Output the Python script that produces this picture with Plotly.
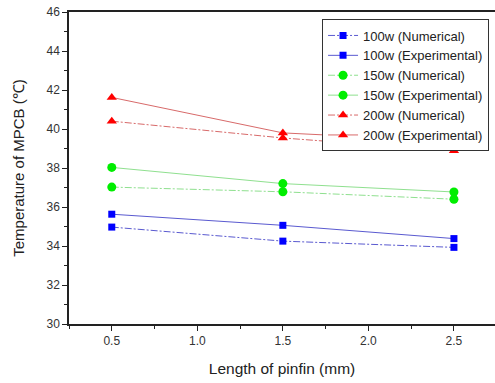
import plotly.graph_objects as go

x_len = [0.5, 1.5, 2.5]
num_100 = [34.97, 34.25, 33.93]
exp_100 = [35.63, 35.06, 34.38]
num_150 = [37.02, 36.78, 36.40]
exp_150 = [38.03, 37.20, 36.77]
num_200 = [40.40, 39.54, 38.88]
exp_200 = [41.62, 39.80, 39.37]

series = [
    ("100w (Numerical)", num_100, "#5a5ad0", "#0000ff", "square", "7px,2px,2px,2px"),
    ("100w (Experimental)", exp_100, "#5a5ad0", "#0000ff", "square", "solid"),
    ("150w (Numerical)", num_150, "#8fe08f", "#00ee00", "circle", "7px,2px,2px,2px"),
    ("150w (Experimental)", exp_150, "#8fe08f", "#00ee00", "circle", "solid"),
    ("200w (Numerical)", num_200, "#d86a6a", "#ff0000", "triangle-up", "7px,2px,2px,2px"),
    ("200w (Experimental)", exp_200, "#d86a6a", "#ff0000", "triangle-up", "solid"),
]

fig = go.Figure()
for name, ys, lc, mc, sym, dash in series:
    fig.add_trace(go.Scatter(
        x=x_len, y=ys, name=name, mode="lines+markers",
        line=dict(color=lc, width=1, dash=dash),
        marker=dict(color=mc, symbol=sym, size=9 if sym != "square" else 7),
    ))

axis_common = dict(
    showline=True, linecolor="#222", linewidth=1.5, mirror=True, automargin=False,
    ticks="outside", ticklen=5, tickcolor="#222", showgrid=False, zeroline=False,
    tickfont=dict(family="Liberation Sans, Arial", size=12, color="#333"),
)

fig.update_layout(
    width=495, height=383,
    margin=dict(l=69, r=0, t=12, b=59),
    paper_bgcolor="white", plot_bgcolor="white",
    font=dict(family="Liberation Sans, Arial", color="#222"),
    xaxis=dict(range=[0.25, 2.74], tickvals=[0.5, 1.0, 1.5, 2.0, 2.5],
               ticktext=["0.5", "1.0", "1.5", "2.0", "2.5"],
               title=dict(text="Length of pinfin (mm)", font=dict(size=15.5), standoff=16),
               minor=dict(ticks="outside", ticklen=3, tickcolor="#222", tickvals=[0.25, 0.75, 1.25, 1.75, 2.25]),
               **axis_common),
    yaxis=dict(range=[30, 46], dtick=2,
               title=dict(text="Temperature of MPCB (℃)", font=dict(size=15), standoff=18),
               minor=dict(ticks="outside", ticklen=3, tickcolor="#222", dtick=1),
               **axis_common),
    legend=dict(x=0.594, y=0.976, xanchor="left", yanchor="top",
                bordercolor="#333", borderwidth=1, bgcolor="white",
                font=dict(size=13, family="Liberation Sans, Arial", color="#222"),
                tracegroupgap=0),
    showlegend=True,
)

fig.write_html("out.html", config={"displayModeBar": False},
               post_script="document.body.style.margin='0';document.body.style.overflow='hidden';")
